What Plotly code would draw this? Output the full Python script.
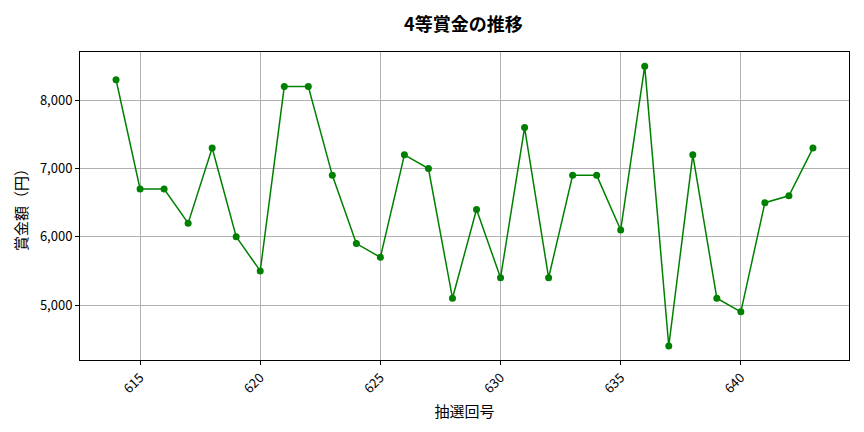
import plotly.graph_objects as go

draws = list(range(614, 644))
prize = [8300, 6700, 6700, 6200, 7300, 6000, 5500, 8200, 8200, 6900,
         5900, 5700, 7200, 7000, 5100, 6400, 5400, 7600, 5400, 6900,
         6900, 6100, 8500, 4400, 7200, 5100, 4900, 6500, 6600, 7300]

font = "Noto Sans CJK JP"

fig = go.Figure()
fig.add_trace(go.Scatter(
    x=draws, y=prize, mode="lines+markers",
    line=dict(color="green", width=1.5),
    marker=dict(color="green", size=7),
))

# page has an 8px body margin, so the figure is sized to the remaining area
fig.update_layout(
    width=856, height=424,
    margin=dict(l=72, r=15, t=44, b=72),
    paper_bgcolor="white", plot_bgcolor="white",
    font=dict(family=font, size=12, color="black"),
    title=dict(text="<b>4等賞金の推移</b>", x=0.532, xanchor="center",
               y=0.96, yanchor="middle",
               font=dict(size=18, family=font, color="black")),
    showlegend=False,
)

fig.update_xaxes(
    range=[612.5, 644.5], tickvals=[615, 620, 625, 630, 635, 640],
    tickangle=-45, ticks="outside", ticklen=4, tickcolor="black",
    tickfont=dict(size=13),
    showgrid=True, gridcolor="#b0b0b0", zeroline=False,
    showline=True, linecolor="black", mirror=True,
    title=dict(text="抽選回号", font=dict(size=15), standoff=10),
)
fig.update_yaxes(
    range=[4195, 8707], tickvals=[5000, 6000, 7000, 8000], tickformat=",",
    ticks="outside", ticklen=4, tickcolor="black",
    tickfont=dict(size=13),
    showgrid=True, gridcolor="#b0b0b0", zeroline=False,
    showline=True, linecolor="black", mirror=True,
    title=dict(text="賞金額（円）", font=dict(size=15), standoff=8),
)

fig.write_html("out.html")
